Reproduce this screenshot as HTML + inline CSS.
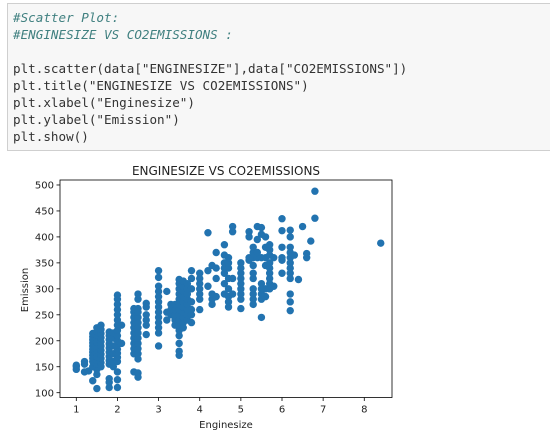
<!DOCTYPE html>
<html><head><meta charset="utf-8"><style>
body{margin:0;width:550px;height:447px;background:#fff;overflow:hidden;position:relative;font-family:"DejaVu Sans","Liberation Sans",sans-serif}
#code{position:absolute;left:7px;top:3px;width:545px;height:148px;background:#f7f7f7;border:1px solid #cfcfcf;box-sizing:border-box}
#code pre{margin:0;position:absolute;left:5px;top:5px;font-family:"DejaVu Sans Mono","Liberation Mono",monospace;font-size:12.6px;line-height:17px;color:#333}
.c{color:#408080;font-style:italic}
</style></head><body>
<div id="code"><pre><span class="c">#Scatter Plot:</span>
<span class="c">#ENGINESIZE VS CO2EMISSIONS :</span>

plt.scatter(data["ENGINESIZE"],data["CO2EMISSIONS"])
plt.title("ENGINESIZE VS CO2EMISSIONS")
plt.xlabel("Enginesize")
plt.ylabel("Emission")
plt.show()</pre></div>
<svg id="chart" width="550" height="447" style="position:absolute;left:0;top:0" xmlns="http://www.w3.org/2000/svg"></svg>
<script>
const engineSize=[1.0,1.2,1.3,1.4,1.5,1.6,1.8,1.9,2.0,2.1,2.4,2.5,2.7,3.0,3.2,3.3,3.4,3.5,3.6,3.7,3.8,4.0,4.2,4.3,4.4,4.6,4.7,4.8,5.0,5.2,5.3,5.4,5.5,5.6,5.7,5.8,6.0,6.2,6.3,6.4,6.5,6.6,6.7,6.8,8.4];
const emissions=[
[145,150,153],[140,155,160],[142],
[123,150,160,166,172,178,184,190,196,202,208,214],
[108,135,145,150,155,162,169,176,183,190,197,204,211,218,225],
[150,158,166,174,182,190,198,206,214,222,230],
[110,120,127,155,162,170,178,186,194,202,210,217],
[150,160,175,190,205,215],
[110,125,140,160,168,176,184,192,200,210,220,230,240,250,260,270,280,288],
[195,230],
[140,175,185,195,205,215,225,235,245,255,262],
[130,138,165,175,185,195,205,215,225,235,245,255,262,280,290],
[212,230,240,250,265,272],
[190,215,225,235,245,255,265,275,285,295,305,322,335],
[240,255,295],[250,260,270],[230,240,250,260,270],
[172,180,195,210,220,230,240,250,260,270,280,290,300,310,318],
[225,235,245,255,265,275,285,295,305,315],
[240,250,260,270,280,290,300,310],
[235,250,260,275,300,320,335],
[260,280,290,300,310,320,330],
[305,335,408],[270,280,290,345],[285,320,340,370],
[290,310,330,340,350,365,385],
[265,275,285,300,320,340,350,360],
[290,320,410,420],
[262,280,290,300,310,320,330,340,350],
[355,360,400,410],
[270,280,290,300,320,330,345,360,370,380],
[360,370,395,420],
[245,280,290,300,310,360,405,418],
[285,300,345,360,380,400],
[300,310,320,330,340,350,365,375,385],
[305,360],
[330,355,360,380,412,435],
[258,275,290,320,330,340,350,360,370,380,400,413],
[365],[318],[420],[360,368],[392],[436,488],[388]];
const xTicks=[1,2,3,4,5,6,7,8];
const yTicks=[100,150,200,250,300,350,400,450,500];

const NS="http://www.w3.org/2000/svg";
const svg=document.getElementById('chart');
const L=60,R=392,T=180,B=397.5;
const xs=v=>76.3+(v-1)*41.14;
const ys=v=>392.7-(v-100)*0.5193;
function mk(tag,attrs){const e=document.createElementNS(NS,tag);for(const k in attrs)e.setAttribute(k,attrs[k]);svg.appendChild(e);return e;}
engineSize.forEach((x,i)=>{emissions[i].forEach(y=>{
 const c=mk('circle',{cx:xs(x),cy:ys(y),r:3.7,fill:'#2273b0'});
 
 
});});
const ax=mk('rect',{x:L,y:T,width:R-L,height:B-T,fill:'none',stroke:'#000','stroke-width':0.8});


xTicks.forEach(t=>{
 const x=xs(t);
 const l=mk('line',{x1:x,x2:x,y1:B,y2:B+3.5,stroke:'#000','stroke-width':0.8});
 
 
 const tx=mk('text',{x:x,y:B+15,'text-anchor':'middle','font-size':10,fill:'#222'});
 tx.textContent=t;
 
 
});
yTicks.forEach(t=>{
 const y=ys(t);
 const l=mk('line',{x1:L-3.5,x2:L,y1:y,y2:y,stroke:'#000','stroke-width':0.8});
 
 
 const tx=mk('text',{x:L-6,y:y+3.6,'text-anchor':'end','font-size':10,fill:'#222'});
 tx.textContent=t;
 
 
});
const ti=mk('text',{x:226,y:175,'text-anchor':'middle','font-size':12,fill:'#222'});
ti.textContent='ENGINESIZE VS CO2EMISSIONS';


const xl=mk('text',{x:226,y:428,'text-anchor':'middle','font-size':10,fill:'#222'});
xl.textContent='Enginesize';


const yl=mk('text',{x:0,y:0,'text-anchor':'middle','font-size':10,fill:'#222',transform:'translate(28,290) rotate(-90)'});
yl.textContent='Emission';


</script>
</body></html>
